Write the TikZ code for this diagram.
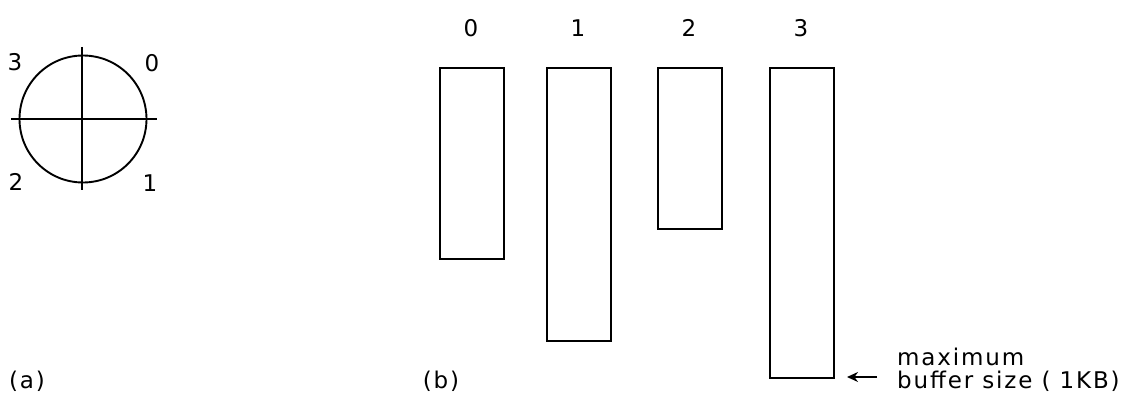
\documentclass[tikz,border=0pt]{standalone}
\usepackage{fontspec}
\setmainfont{DejaVu Sans}[LetterSpace=8]
\usetikzlibrary{arrows.meta}
\begin{document}
\begin{tikzpicture}[x=1pt,y=-1pt,
  ln/.style={line width=1.9pt},
  lbl/.style={font=\fontsize{23}{25}\selectfont, inner sep=0pt},
  buf/.style={draw, line width=1.9pt}]
\useasboundingbox (0,0) rectangle (1134,404);
% (a) circle
\draw[ln] (83,119) circle (63.5);
\draw[ln] (11,119) -- (157,119);
\draw[ln] (82,47) -- (82,190);
\node[lbl] (c3) at (15,62) {3};
\node[lbl] (c0) at (152,63) {0};
\node[lbl] (c2) at (16,182) {2};
\node[lbl] (c1) at (150,183) {1};
\node[lbl] (la) at (27,381) {(a)};
% (b) buffers
\node[buf, minimum width=64pt, minimum height=191pt, anchor=north west] (b0) at (439,67) {};
\node[buf, minimum width=64pt, minimum height=273pt, anchor=north west] (b1) at (546,67) {};
\node[buf, minimum width=64pt, minimum height=161pt, anchor=north west] (b2) at (657,67) {};
\node[buf, minimum width=64pt, minimum height=310pt, anchor=north west] (b3) at (769,67) {};
\node[lbl] (t0) at (471,28) {0};
\node[lbl] (t1) at (578,28) {1};
\node[lbl] (t2) at (689,28) {2};
\node[lbl] (t3) at (801,28) {3};
\node[lbl] (lb) at (441,381) {(b)};
\coordinate (as) at (877,377);
\coordinate (ae) at (847,377);
\draw[ln, -{Stealth[length=11pt,width=10pt]}] (as) -- (ae);
\node[lbl, anchor=west] (m1) at (897,357) {maximum};
\node[lbl, anchor=west] (m2) at (897,381) {buffer size ( 1KB)};
\end{tikzpicture}
\end{document}
